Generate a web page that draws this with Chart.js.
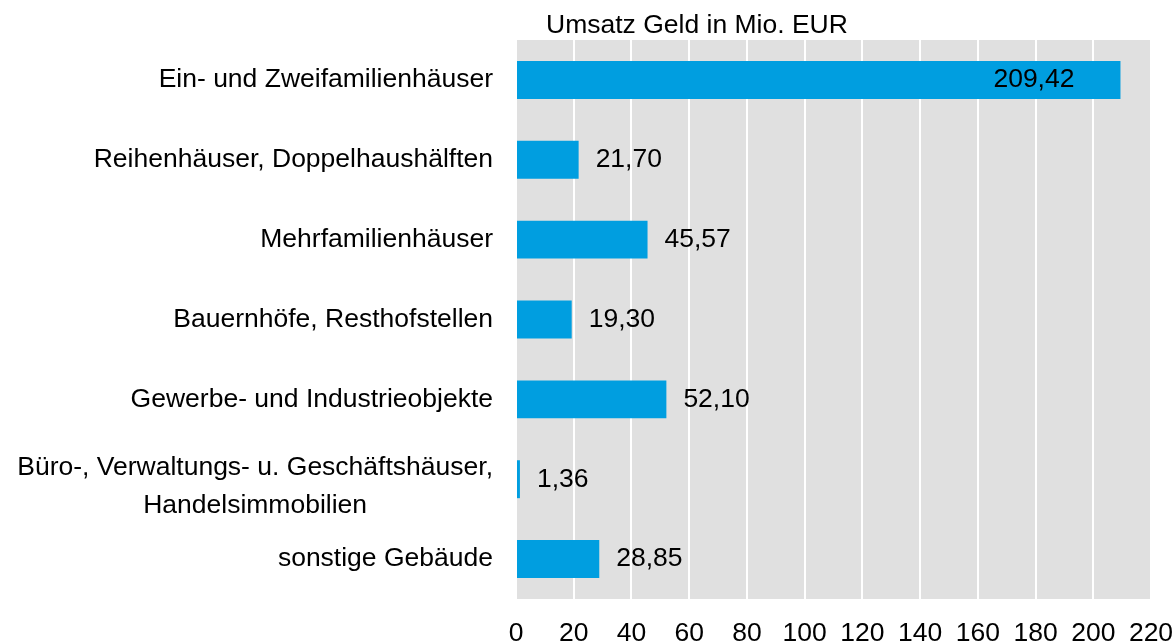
<!DOCTYPE html>
<html>
<head>
<meta charset="utf-8">
<script src="https://cdn.jsdelivr.net/npm/chart.js@4/dist/chart.umd.min.js"></script>
<style>
  html, body { margin: 0; padding: 0; background: #fff; }
  #wrap { width: 1176px; height: 644px; }
</style>
</head>
<body>
<div id="wrap"><canvas id="chart" width="1176" height="644"></canvas></div>
<script>
const titleText = 'Umsatz Geld in Mio. EUR';
const categories = [
    ['Ein- und Zweifamilienhäuser'],
    ['Reihenhäuser, Doppelhaushälften'],
    ['Mehrfamilienhäuser'],
    ['Bauernhöfe, Resthofstellen'],
    ['Gewerbe- und Industrieobjekte'],
    ['Büro-, Verwaltungs- u. Geschäftshäuser,', 'Handelsimmobilien'],
    ['sonstige Gebäude'],
];
const umsatz = [209.42, 21.70, 45.57, 19.30, 52.10, 1.36, 28.85];
const xTicks = [0, 20, 40, 60, 80, 100, 120, 140, 160, 180, 200, 220];

const FONT = '"Liberation Sans", Arial, sans-serif';
const TXT = '26.5px ' + FONT;

// grey plot background + title text
const plotBg = {
    id: 'plotBg',
    beforeDraw(chart) {
        const { ctx, chartArea: a } = chart;
        ctx.save();
        ctx.fillStyle = '#e0e0e0';
        ctx.fillRect(a.left, a.top, a.right - a.left, a.bottom - a.top);
        ctx.restore();
    },
    afterDraw(chart) {
        const { ctx, chartArea: a } = chart;
        ctx.save();
        ctx.font = TXT;
        ctx.fillStyle = '#000';
        ctx.textAlign = 'left';
        ctx.textBaseline = 'middle';
        ctx.fillText(titleText, a.left + 30, 26);
        ctx.restore();
    }
};

// category labels, right aligned, multi-line blocks centred on their widest line
const catLabels = {
    id: 'catLabels',
    afterDraw(chart) {
        const { ctx } = chart;
        const y = chart.scales.y;
        ctx.save();
        ctx.font = TXT;
        ctx.fillStyle = '#000';
        ctx.textBaseline = 'middle';
        categories.forEach((lines, i) => {
            const cy = y.getPixelForValue(i);
            const right = 493;
            if (lines.length === 1) {
                ctx.textAlign = 'right';
                ctx.fillText(lines[0], right, cy);
            } else {
                const w = Math.max(...lines.map(l => ctx.measureText(l).width));
                const cx = right - w / 2;
                ctx.textAlign = 'center';
                lines.forEach((l, j) => {
                    ctx.fillText(l, cx, cy - 12 + j * 38);
                });
            }
        });
        ctx.restore();
    }
};

// value labels next to (or inside) the bars
const valueLabels = {
    id: 'valueLabels',
    afterDatasetsDraw(chart) {
        const { ctx, chartArea: a } = chart;
        const meta = chart.getDatasetMeta(0);
        ctx.save();
        ctx.font = TXT;
        ctx.fillStyle = '#000';
        ctx.textBaseline = 'middle';
        meta.data.forEach((bar, i) => {
            const txt = umsatz[i].toFixed(2).replace('.', ',');
            const w = ctx.measureText(txt).width;
            if (bar.x + 17 + w > a.right) {
                ctx.textAlign = 'right';
                ctx.fillText(txt, bar.x - 46, bar.y);
            } else {
                ctx.textAlign = 'left';
                ctx.fillText(txt, bar.x + 17, bar.y);
            }
        });
        ctx.restore();
    }
};

new Chart(document.getElementById('chart'), {
    type: 'bar',
    data: {
        labels: categories,
        datasets: [{
            data: umsatz,
            backgroundColor: '#009ee0',
            borderWidth: 0,
            barPercentage: 0.95,
            categoryPercentage: 0.5,
        }],
    },
    options: {
        indexAxis: 'y',
        responsive: false,
        animation: false,
        layout: { padding: { top: 40, right: 25, left: 0, bottom: 0 } },
        plugins: {
            legend: { display: false },
            title: { display: false },
            tooltip: { enabled: false },
        },
        scales: {
            x: {
                min: 0,
                max: 220,
                afterBuildTicks: (s) => { s.ticks = xTicks.map(v => ({ value: v })); },
                afterFit: (s) => {
                    s.height = 45;
                    s.paddingLeft = 0;
                    s.paddingRight = 0;
                },
                grid: { color: '#ffffff', lineWidth: 2, drawTicks: false },
                border: { display: false },
                ticks: {
                    font: { size: 26.5, family: FONT },
                    color: '#000',
                    padding: 19,
                    maxRotation: 0,
                    autoSkip: false,
                },
            },
            y: {
                afterFit: (s) => { s.width = 516; },
                grid: { display: false },
                border: { display: false },
                ticks: { display: false },
            },
        },
    },
    plugins: [plotBg, catLabels, valueLabels],
});
</script>
</body>
</html>
